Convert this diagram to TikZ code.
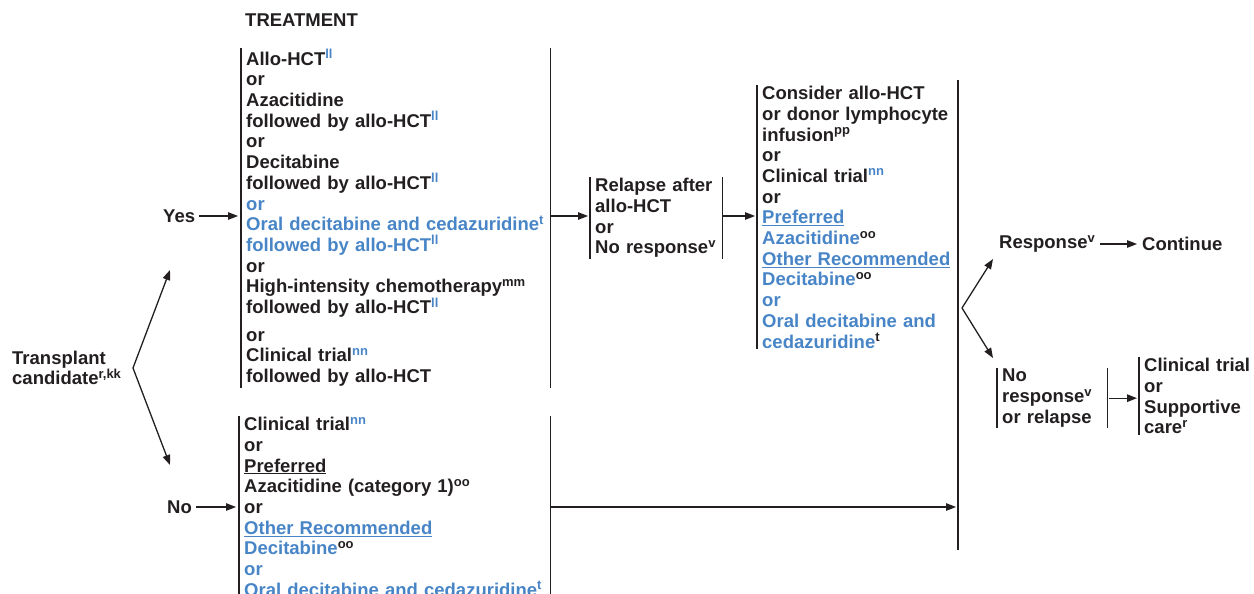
\documentclass[tikz,border=0pt]{standalone}
\usepackage{fontspec}
\setmainfont{Liberation Sans}
\usepackage{xcolor}
\usetikzlibrary{arrows.meta, positioning, calc}

\definecolor{nccnblue}{RGB}{72,133,199}
\definecolor{nccnblack}{RGB}{35,31,32}
\newcommand{\bl}[1]{\textcolor{nccnblue}{#1}}
\newcommand{\sps}[1]{\raisebox{6.5pt}{\fontsize{13}{13}\selectfont #1}}

\begin{document}
\begin{tikzpicture}[
    x=1pt, y=-1pt,
    every node/.style={font=\fontsize{18.5}{20.7}\selectfont\bfseries, text=nccnblack, inner sep=0pt},
    lbl/.style={anchor=west},
    list/.style={anchor=north west, align=left, inner xsep=5pt, inner ysep=1pt},
    bar/.style={draw=nccnblack, line width=1.4pt, -},
    bars/.style={append after command={(\tikzlastnode.north west) edge[bar] (\tikzlastnode.south west)
        (\tikzlastnode.north east) edge[bar] (\tikzlastnode.south east)}},
    leftbar/.style={append after command={(\tikzlastnode.north west) edge[bar] (\tikzlastnode.south west)}},
    arrow/.style={-{Triangle[length=10pt, width=7.5pt]}, line width=1.3pt, draw=nccnblack}
]
\useasboundingbox (0,0) rectangle (1254,594);

% Title
\node[lbl] (title) at (245,20) {TREATMENT};

% Transplant candidate and branches
\node[lbl, align=left] (tc) at (12,368) {Transplant\\candidate\sps{r,kk}};
\node[lbl] (yes) at (163,216) {Yes};
\node[lbl] (no) at (167,507) {No};

% Yes: treatment
\node[list, bars, text width=299pt] (yesbox) at (241,48) {
    Allo-HCT\bl{\sps{ll}}\\
    or\\
    Azacitidine\\
    followed by allo-HCT\bl{\sps{ll}}\\
    or\\
    Decitabine\\
    followed by allo-HCT\bl{\sps{ll}}\\
    \bl{or}\\
    \bl{Oral decitabine and cedazuridine\sps{t}}\\
    \bl{followed by allo-HCT\sps{ll}}\\
    or\\
    High-intensity chemotherapy\sps{mm}\\
    followed by allo-HCT\bl{\sps{ll}}\\[7pt]
    or\\
    Clinical trial\bl{\sps{nn}}\\
    followed by allo-HCT
};

% No: treatment
\node[list, bars, text width=301pt] (nobox) at (239,416) {
    Clinical trial\bl{\sps{nn}}\\
    or\\
    \underline{Preferred}\\
    Azacitidine (category 1)\sps{oo}\\
    or\\
    \bl{\underline{Other Recommended}}\\
    \bl{Decitabine}\sps{oo}\\
    \bl{or}\\
    \bl{Oral decitabine and cedazuridine\sps{t}}
};

% Relapse
\node[list, bars, text width=122pt] (relbox) at (590,177) {
    Relapse after\\
    allo-HCT\\
    or\\
    No response\sps{v}
};

% Second-line options
\node[list, leftbar, text width=190pt] (conbox) at (757,85) {
    Consider allo-HCT\\
    or donor lymphocyte\\
    infusion\sps{pp}\\
    or\\
    Clinical trial\bl{\sps{nn}}\\
    or\\
    \bl{\underline{Preferred}}\\
    \bl{Azacitidine}\sps{oo}\\
    \bl{\underline{Other Recommended}}\\
    \bl{Decitabine}\sps{oo}\\
    \bl{or}\\
    \bl{Oral decitabine and}\\
    \bl{cedazuridine}\sps{t}
};

% Response assessment
\node[lbl] (resp) at (999,244) {Response\sps{v}};
\node[lbl] (cont) at (1142,244) {Continue};
\node[list, bars, text width=100pt] (nrbox) at (997,368) {
    No\\
    response\sps{v}\\
    or relapse
};
\node[list, leftbar, text width=110pt] (ctbox) at (1139,357) {
    Clinical trial\\
    or\\
    Supportive\\
    care\sps{r}
};

% Split points and collector bar
\coordinate (tcsplit) at (133,368);
\coordinate (yesin) at (170,270);
\coordinate (noin) at (170,465);
\coordinate (rsplit) at (962,308);
\coordinate (respin) at (993,259);
\coordinate (nrin) at (993,358);
\coordinate (jtop) at (958,80);
\coordinate (jbot) at (958,550);
\draw[bar] (jtop) -- (jbot);

% Arrows
\draw[arrow] (tcsplit) -- (yesin);
\draw[arrow] (tcsplit) -- (noin);
\draw[arrow, shorten <=4pt, shorten >=3pt] (yes.east) -- (yes.east -| yesbox.west);
\draw[arrow, shorten <=4pt, shorten >=3pt] (no.east) -- (no.east -| nobox.west);
\draw[arrow, shorten >=2pt] (yesbox.east |- yes) -- (relbox.west |- yes);
\draw[arrow, shorten >=2pt] (relbox.east |- yes) -- (conbox.west |- yes);
\draw[arrow, shorten >=2pt] (nobox.east |- no) -- (jtop |- no);
\draw[arrow] (rsplit) -- (respin);
\draw[arrow] (rsplit) -- (nrin);
\draw[arrow, shorten <=5pt, shorten >=5pt] (resp.east) -- (cont.west);
\draw[arrow, shorten <=2pt, shorten >=2pt] (nrbox.east) -- (nrbox.east -| ctbox.west);

\end{tikzpicture}
\end{document}
